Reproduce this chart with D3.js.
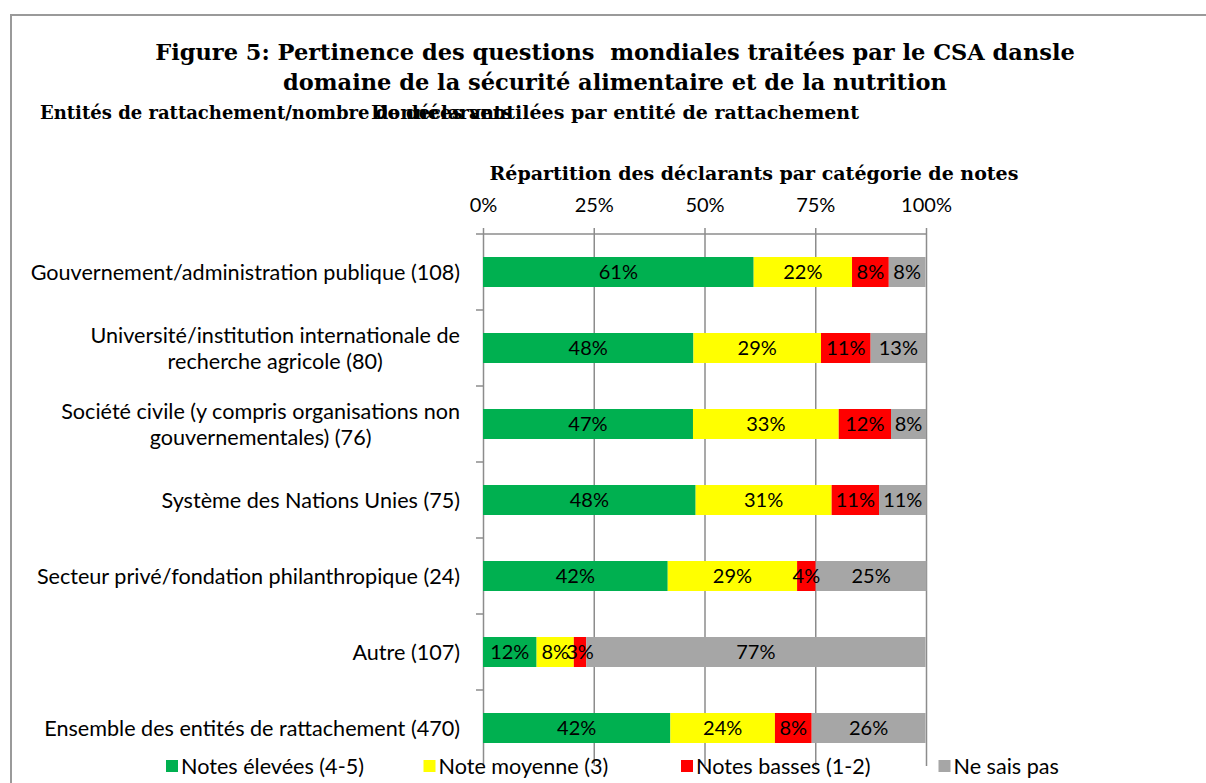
<!DOCTYPE html>
<html>
<head>
<meta charset="utf-8">
<script src="https://cdn.jsdelivr.net/npm/d3@7"></script>
<style>
  body { margin: 0; background: #fff; }
  svg { display: block; }
</style>
</head>
<body>
<div id="wrapper"></div>
<script>
// categories (top to bottom), each label split in its displayed lines
const categories = [
    ["Gouvernement/administration publique (108)"],
    ["Université/institution internationale de", "recherche agricole (80)"],
    ["Société civile (y compris organisations non", "gouvernementales) (76)"],
    ["Système des Nations Unies (75)"],
    ["Secteur privé/fondation philanthropique (24)"],
    ["Autre (107)"],
    ["Ensemble des entités de rattachement (470)"]
]
const seriesNames = ["Notes élevées (4-5)", "Note moyenne (3)", "Notes basses (1-2)", "Ne sais pas"]
// percentages per category
const high    = [61.1, 47.5, 47.4, 48.0, 41.7, 12.1, 42.3]
const medium  = [22.2, 28.8, 32.9, 30.7, 29.2,  8.4, 23.6]
const low     = [ 8.3, 11.2, 11.8, 10.7,  4.2,  2.8,  8.3]
const unknown = [ 8.3, 12.5,  7.9, 10.7, 25.0, 76.6, 25.7]
const xTicks = [0, 25, 50, 75, 100]

const colors = ["#00B050", "#FFFF00", "#FF0000", "#A6A6A6"]

const dataset = categories.map((c, i) => ({
    cat: i, label: c,
    s0: high[i], s1: medium[i], s2: low[i], s3: unknown[i]
}))
const keys = ["s0", "s1", "s2", "s3"]

const width = 1206, height = 783
const plot = { left: 483, right: 926, top: 234, bottom: 766 }

const svg = d3.select("#wrapper").append("svg")
    .attr("width", width).attr("height", height)

// outer frame
svg.append("path")
    .attr("d", `M11,${height} L11,15 L${width},15`)
    .attr("fill", "none").attr("stroke", "#9a9a9a").attr("stroke-width", 2)

const serif = "'DejaVu Serif', 'Liberation Serif', serif"
const sans = "Lato, 'Open Sans', sans-serif"

// titles
const title = svg.append("text")
    .attr("text-anchor", "middle")
    .attr("font-family", serif).attr("font-weight", "bold")
    .attr("font-size", 22.5)
    .style("white-space", "pre")
title.append("tspan").attr("x", 615).attr("y", 60)
    .text("Figure 5: Pertinence des questions  mondiales traitées par le CSA dansle")
title.append("tspan").attr("x", 615).attr("y", 90)
    .text("domaine de la sécurité alimentaire et de la nutrition")

svg.append("text")
    .attr("x", 40).attr("y", 119)
    .attr("font-family", serif).attr("font-weight", "bold").attr("font-size", 18)
    .text("Entités de rattachement/nombre de déclarants")
svg.append("text")
    .attr("x", 615).attr("y", 119).attr("text-anchor", "middle")
    .attr("font-family", serif).attr("font-weight", "bold").attr("font-size", 19)
    .text("Données ventilées par entité de rattachement")

svg.append("text")
    .attr("x", (492 + 1016) / 2).attr("y", 180).attr("text-anchor", "middle")
    .attr("font-family", serif).attr("font-weight", "bold").attr("font-size", 19)
    .text("Répartition des déclarants par catégorie de notes")

// scales
const xScale = d3.scaleLinear().domain([0, 100]).range([plot.left, plot.right])
const yScale = d3.scaleBand()
    .domain(dataset.map(d => d.cat))
    .range([plot.top, plot.bottom])
    .paddingInner(46 / 76).paddingOuter(23 / 76)

const gridColor = "#8c8c8c"

// gridlines + top axis
const xAxis = svg.append("g")
    .attr("transform", `translate(0,${plot.top})`)
    .call(d3.axisTop(xScale).tickValues(xTicks).tickSize(6).tickPadding(16)
        .tickFormat(d => d + "%"))
xAxis.select(".domain").remove()
xAxis.selectAll(".tick line").attr("stroke", gridColor).attr("stroke-width", 1.5)
xAxis.selectAll(".tick text")
    .attr("font-family", sans).attr("font-size", 20).attr("fill", "#000")
xAxis.selectAll(".tick").append("line")
    .attr("y1", 0).attr("y2", plot.bottom - plot.top)
    .attr("stroke", gridColor).attr("stroke-width", 1.5)
svg.append("line")
    .attr("x1", plot.left - 7).attr("x2", plot.right)
    .attr("y1", plot.top).attr("y2", plot.top)
    .attr("stroke", gridColor).attr("stroke-width", 1.5)

// category boundary ticks on the left
const step = yScale.step()
svg.append("g").selectAll("line")
    .data(dataset.slice(1))
    .join("line")
    .attr("x1", plot.left - 7).attr("x2", plot.left)
    .attr("y1", d => yScale(d.cat) - (step - yScale.bandwidth()) / 2)
    .attr("y2", d => yScale(d.cat) - (step - yScale.bandwidth()) / 2)
    .attr("stroke", gridColor).attr("stroke-width", 1.5)

// stacked bars
const layers = d3.stack().keys(keys)(dataset)
const bounds = svg.append("g")
layers.forEach((layer, li) => {
    bounds.append("g").selectAll("rect")
        .data(layer)
        .join("rect")
        .attr("x", d => xScale(d[0]))
        .attr("width", d => xScale(d[1]) - xScale(d[0]))
        .attr("y", d => yScale(d.data.cat))
        .attr("height", yScale.bandwidth())
        .attr("fill", colors[li])
})
layers.forEach((layer, li) => {
    bounds.append("g").selectAll("text")
        .data(layer)
        .join("text")
        .attr("x", d => (xScale(d[0]) + xScale(d[1])) / 2)
        .attr("y", d => yScale(d.data.cat) + yScale.bandwidth() / 2)
        .attr("dy", "0.35em")
        .attr("text-anchor", "middle")
        .attr("font-family", sans).attr("font-size", 20)
        .text(d => Math.round(d[1] - d[0]) + "%")
})

// category labels (wrapped lines centered on their block, block right-aligned)
const labelRight = 460
const labels = svg.append("g").selectAll("text")
    .data(dataset)
    .join("text")
    .attr("text-anchor", "middle")
    .attr("font-family", sans).attr("font-size", 21.6)
labels.each(function(d) {
    const t = d3.select(this)
    const n = d.label.length
    const cy = yScale(d.cat) + yScale.bandwidth() / 2
    let w = 0
    d.label.forEach((line, i) => {
        const ts = t.append("tspan")
            .attr("x", 0)
            .attr("y", cy + (i - (n - 1) / 2) * 26)
            .attr("dy", "0.35em")
            .text(line)
        w = Math.max(w, ts.node().getComputedTextLength())
    })
    t.selectAll("tspan").attr("x", labelRight - w / 2)
})

// legend
const legend = svg.append("g").selectAll("g")
    .data(seriesNames)
    .join("g")
    .attr("transform", (d, i) => `translate(${166 + i * 257.5},760)`)
legend.append("rect")
    .attr("width", 12).attr("height", 12)
    .attr("fill", (d, i) => colors[i])
legend.append("text")
    .attr("x", 15).attr("y", 6).attr("dy", "0.35em")
    .attr("font-family", sans).attr("font-size", 21.6)
    .text(d => d)
</script>
</body>
</html>
